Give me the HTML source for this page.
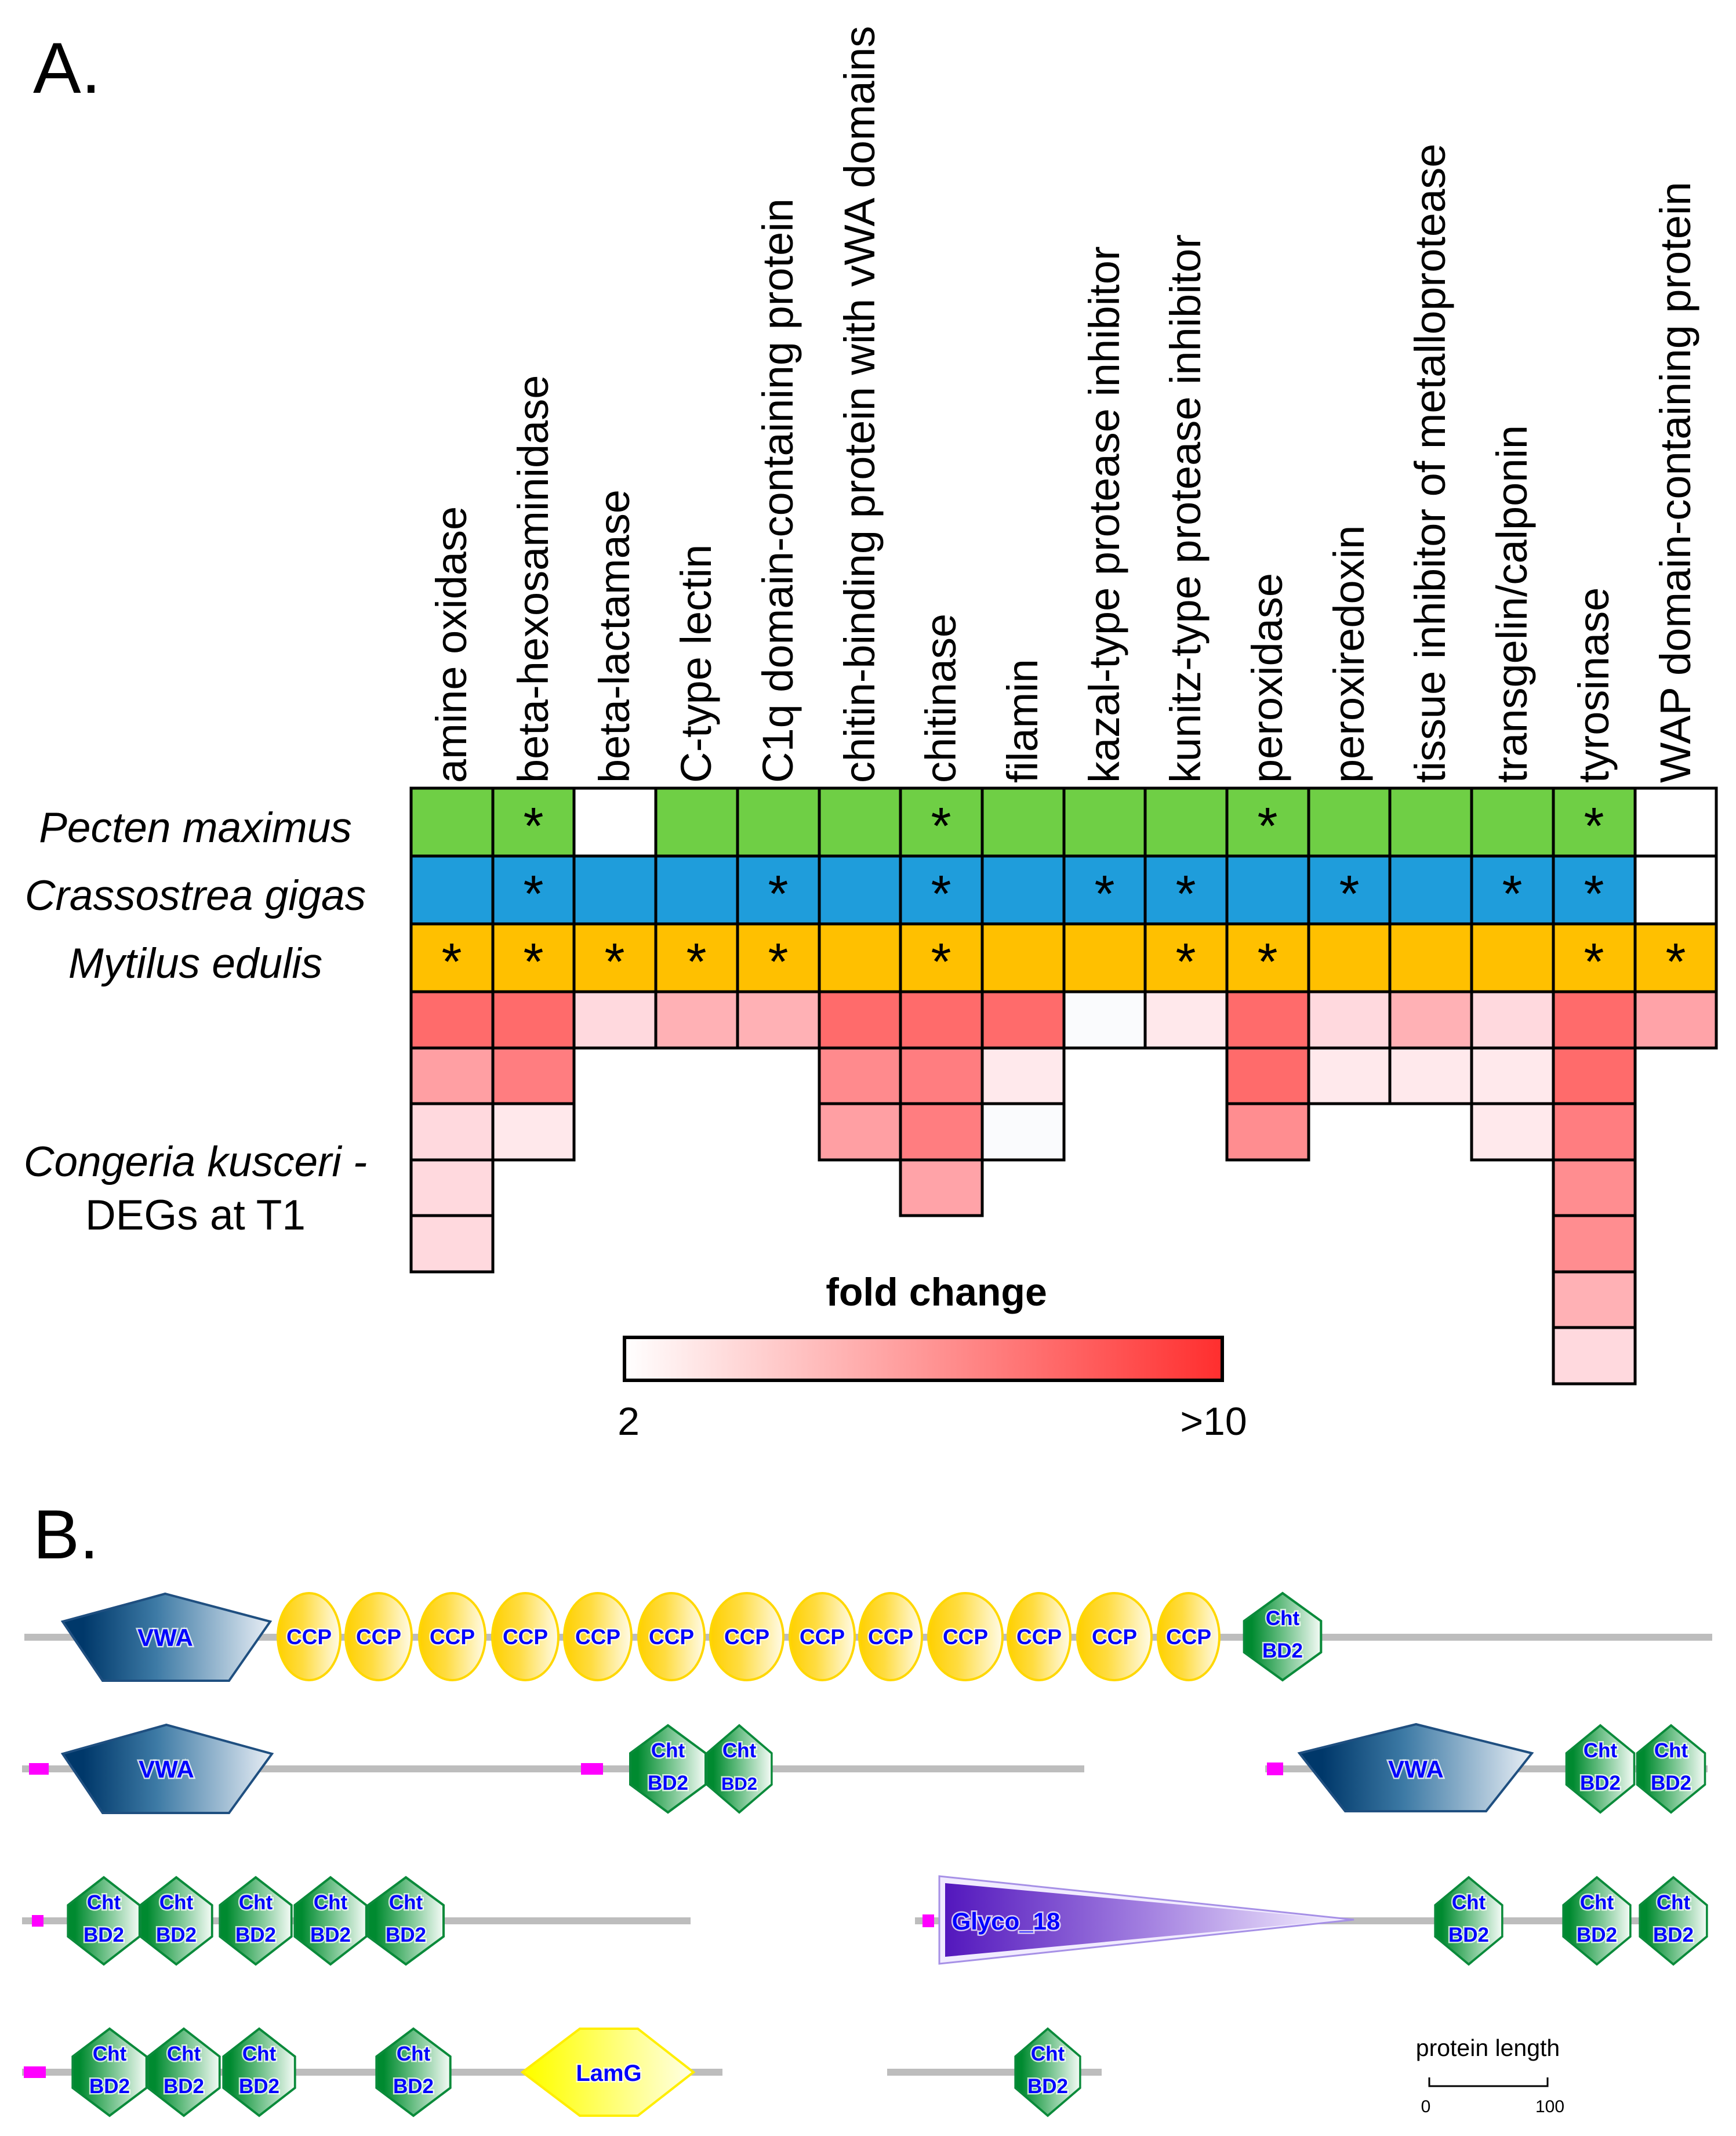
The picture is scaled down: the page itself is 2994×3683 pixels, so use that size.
<!DOCTYPE html>
<html><head><meta charset="utf-8"><style>
html,body{margin:0;padding:0;background:#fff;}
svg{display:block;}
.lab{font-family:"Liberation Sans",Arial,sans-serif;font-size:74px;fill:#000;}
.sp{font-family:"Liberation Sans",Arial,sans-serif;font-size:73px;font-style:italic;fill:#000;}
.st{font-family:"Liberation Sans",Arial,sans-serif;font-size:90px;fill:#000;text-anchor:middle;}
.d{font-family:"Liberation Sans",Arial,sans-serif;font-weight:bold;fill:#0000ff;text-anchor:middle;stroke:#fff;stroke-width:5;stroke-opacity:0.75;paint-order:stroke;}
</style></head><body>
<svg width="2994" height="3683" viewBox="0 0 2994 3683" xmlns="http://www.w3.org/2000/svg">
<defs>
<linearGradient id="vwa" x1="0" y1="0" x2="1" y2="0"><stop offset="0.1" stop-color="#00386a"/><stop offset="0.45" stop-color="#3d7aa5"/><stop offset="1" stop-color="#e8eef5"/></linearGradient>
<linearGradient id="ccp" x1="0" y1="0" x2="1" y2="0"><stop offset="0" stop-color="#ffd000"/><stop offset="0.4" stop-color="#ffdc40"/><stop offset="1" stop-color="#fffbe8"/></linearGradient>
<linearGradient id="cht" x1="0" y1="0" x2="1" y2="0"><stop offset="0.1" stop-color="#008a30"/><stop offset="0.45" stop-color="#5cb879"/><stop offset="1" stop-color="#f4fbf6"/></linearGradient>
<linearGradient id="gly" x1="0" y1="0" x2="1" y2="0"><stop offset="0" stop-color="#5317bd"/><stop offset="0.5" stop-color="#a27fe0"/><stop offset="1" stop-color="#f6f1ff"/></linearGradient>
<linearGradient id="lam" x1="0" y1="0" x2="1" y2="0"><stop offset="0.05" stop-color="#ffff00"/><stop offset="1" stop-color="#ffffe6"/></linearGradient>
<linearGradient id="fold" x1="0" y1="0" x2="1" y2="0"><stop offset="0" stop-color="#ffffff"/><stop offset="1" stop-color="#ff2e2e"/></linearGradient>
<polygon id="chtp" points="0,-75 65,-27 65,27 0,75 -65,27 -65,-27" fill="url(#cht)" stroke="#0a8a3a" stroke-width="4"/>
</defs>

<text x="57" y="160" font-family="Liberation Sans,Arial,sans-serif" font-size="124">A.</text>

<g class="lab">
<text transform="translate(779,1350) rotate(-90)" y="25">amine oxidase</text>
<text transform="translate(920,1350) rotate(-90)" y="25">beta-hexosaminidase</text>
<text transform="translate(1060,1350) rotate(-90)" y="25">beta-lactamase</text>
<text transform="translate(1201,1350) rotate(-90)" y="25">C-type lectin</text>
<text transform="translate(1342,1350) rotate(-90)" y="25">C1q domain-containing protein</text>
<text transform="translate(1483,1350) rotate(-90)" y="25">chitin-binding protein with vWA domains</text>
<text transform="translate(1623,1350) rotate(-90)" y="25">chitinase</text>
<text transform="translate(1764,1350) rotate(-90)" y="25">filamin</text>
<text transform="translate(1905,1350) rotate(-90)" y="25">kazal-type protease inhibitor</text>
<text transform="translate(2045,1350) rotate(-90)" y="25">kunitz-type protease inhibitor</text>
<text transform="translate(2186,1350) rotate(-90)" y="25">peroxidase</text>
<text transform="translate(2327,1350) rotate(-90)" y="25">peroxiredoxin</text>
<text transform="translate(2467,1350) rotate(-90)" y="25">tissue inhibitor of metalloprotease</text>
<text transform="translate(2608,1350) rotate(-90)" y="25">transgelin/calponin</text>
<text transform="translate(2749,1350) rotate(-90)" y="25">tyrosinase</text>
<text transform="translate(2890,1350) rotate(-90)" y="25">WAP domain-containing protein</text>
</g>

<g class="sp" text-anchor="middle">
<text x="337" y="1452">Pecten maximus</text>
<text x="337" y="1569">Crassostrea gigas</text>
<text x="337" y="1686">Mytilus edulis</text>
<text x="337" y="2028">Congeria kusceri -</text>
<text x="337" y="2120" font-style="normal">DEGs at T1</text>
</g>

<g stroke="#000" stroke-width="5">
<rect x="709" y="1359" width="141" height="117" fill="#6fcf45"/>
<rect x="850" y="1359" width="140" height="117" fill="#6fcf45"/>
<rect x="990" y="1359" width="141" height="117" fill="#ffffff"/>
<rect x="1131" y="1359" width="141" height="117" fill="#6fcf45"/>
<rect x="1272" y="1359" width="141" height="117" fill="#6fcf45"/>
<rect x="1413" y="1359" width="140" height="117" fill="#6fcf45"/>
<rect x="1553" y="1359" width="141" height="117" fill="#6fcf45"/>
<rect x="1694" y="1359" width="141" height="117" fill="#6fcf45"/>
<rect x="1835" y="1359" width="140" height="117" fill="#6fcf45"/>
<rect x="1975" y="1359" width="141" height="117" fill="#6fcf45"/>
<rect x="2116" y="1359" width="141" height="117" fill="#6fcf45"/>
<rect x="2257" y="1359" width="140" height="117" fill="#6fcf45"/>
<rect x="2397" y="1359" width="141" height="117" fill="#6fcf45"/>
<rect x="2538" y="1359" width="141" height="117" fill="#6fcf45"/>
<rect x="2679" y="1359" width="141" height="117" fill="#6fcf45"/>
<rect x="2820" y="1359" width="140" height="117" fill="#ffffff"/>
<rect x="709" y="1476" width="141" height="117" fill="#1f9ddb"/>
<rect x="850" y="1476" width="140" height="117" fill="#1f9ddb"/>
<rect x="990" y="1476" width="141" height="117" fill="#1f9ddb"/>
<rect x="1131" y="1476" width="141" height="117" fill="#1f9ddb"/>
<rect x="1272" y="1476" width="141" height="117" fill="#1f9ddb"/>
<rect x="1413" y="1476" width="140" height="117" fill="#1f9ddb"/>
<rect x="1553" y="1476" width="141" height="117" fill="#1f9ddb"/>
<rect x="1694" y="1476" width="141" height="117" fill="#1f9ddb"/>
<rect x="1835" y="1476" width="140" height="117" fill="#1f9ddb"/>
<rect x="1975" y="1476" width="141" height="117" fill="#1f9ddb"/>
<rect x="2116" y="1476" width="141" height="117" fill="#1f9ddb"/>
<rect x="2257" y="1476" width="140" height="117" fill="#1f9ddb"/>
<rect x="2397" y="1476" width="141" height="117" fill="#1f9ddb"/>
<rect x="2538" y="1476" width="141" height="117" fill="#1f9ddb"/>
<rect x="2679" y="1476" width="141" height="117" fill="#1f9ddb"/>
<rect x="2820" y="1476" width="140" height="117" fill="#ffffff"/>
<rect x="709" y="1593" width="141" height="117" fill="#ffc000"/>
<rect x="850" y="1593" width="140" height="117" fill="#ffc000"/>
<rect x="990" y="1593" width="141" height="117" fill="#ffc000"/>
<rect x="1131" y="1593" width="141" height="117" fill="#ffc000"/>
<rect x="1272" y="1593" width="141" height="117" fill="#ffc000"/>
<rect x="1413" y="1593" width="140" height="117" fill="#ffc000"/>
<rect x="1553" y="1593" width="141" height="117" fill="#ffc000"/>
<rect x="1694" y="1593" width="141" height="117" fill="#ffc000"/>
<rect x="1835" y="1593" width="140" height="117" fill="#ffc000"/>
<rect x="1975" y="1593" width="141" height="117" fill="#ffc000"/>
<rect x="2116" y="1593" width="141" height="117" fill="#ffc000"/>
<rect x="2257" y="1593" width="140" height="117" fill="#ffc000"/>
<rect x="2397" y="1593" width="141" height="117" fill="#ffc000"/>
<rect x="2538" y="1593" width="141" height="117" fill="#ffc000"/>
<rect x="2679" y="1593" width="141" height="117" fill="#ffc000"/>
<rect x="2820" y="1593" width="140" height="117" fill="#ffc000"/>
<!-- fold rows: 1710,1807,1903,2000,2096,2193,2289,2386 -->
<rect x="709" y="1710" width="141" height="97" fill="#ff6b6b"/>
<rect x="709" y="1807" width="141" height="96" fill="#ff9fa3"/>
<rect x="709" y="1903" width="141" height="97" fill="#ffd9de"/>
<rect x="709" y="2000" width="141" height="96" fill="#ffd9de"/>
<rect x="709" y="2096" width="141" height="97" fill="#ffd9de"/>
<rect x="850" y="1710" width="140" height="97" fill="#ff6b6b"/>
<rect x="850" y="1807" width="140" height="96" fill="#ff7d80"/>
<rect x="850" y="1903" width="140" height="97" fill="#ffe8eb"/>
<rect x="990" y="1710" width="141" height="97" fill="#ffd9de"/>
<rect x="1131" y="1710" width="141" height="97" fill="#ffb1b5"/>
<rect x="1272" y="1710" width="141" height="97" fill="#ffb1b5"/>
<rect x="1413" y="1710" width="140" height="97" fill="#ff6b6b"/>
<rect x="1413" y="1807" width="140" height="96" fill="#ff8a8d"/>
<rect x="1413" y="1903" width="140" height="97" fill="#ff9fa3"/>
<rect x="1553" y="1710" width="141" height="97" fill="#ff6b6b"/>
<rect x="1553" y="1807" width="141" height="96" fill="#ff7d80"/>
<rect x="1553" y="1903" width="141" height="97" fill="#ff7d80"/>
<rect x="1553" y="2000" width="141" height="96" fill="#ffa3a8"/>
<rect x="1694" y="1710" width="141" height="97" fill="#ff6b6b"/>
<rect x="1694" y="1807" width="141" height="96" fill="#ffe9ec"/>
<rect x="1694" y="1903" width="141" height="97" fill="#fafbfd"/>
<rect x="1835" y="1710" width="140" height="97" fill="#fafbfd"/>
<rect x="1975" y="1710" width="141" height="97" fill="#ffe8eb"/>
<rect x="2116" y="1710" width="141" height="97" fill="#ff6b6b"/>
<rect x="2116" y="1807" width="141" height="96" fill="#ff6b6b"/>
<rect x="2116" y="1903" width="141" height="97" fill="#ff8d90"/>
<rect x="2257" y="1710" width="140" height="97" fill="#ffd9de"/>
<rect x="2257" y="1807" width="140" height="96" fill="#ffe9ec"/>
<rect x="2397" y="1710" width="141" height="97" fill="#ffb1b5"/>
<rect x="2397" y="1807" width="141" height="96" fill="#ffe9ec"/>
<rect x="2538" y="1710" width="141" height="97" fill="#ffd9de"/>
<rect x="2538" y="1807" width="141" height="96" fill="#ffe9ec"/>
<rect x="2538" y="1903" width="141" height="97" fill="#ffe9ec"/>
<rect x="2679" y="1710" width="141" height="97" fill="#ff6b6b"/>
<rect x="2679" y="1807" width="141" height="96" fill="#ff6b6b"/>
<rect x="2679" y="1903" width="141" height="97" fill="#ff7d80"/>
<rect x="2679" y="2000" width="141" height="96" fill="#ff8d90"/>
<rect x="2679" y="2096" width="141" height="97" fill="#ff8d90"/>
<rect x="2679" y="2193" width="141" height="96" fill="#ffb1b5"/>
<rect x="2679" y="2289" width="141" height="97" fill="#ffd9de"/>
<rect x="2820" y="1710" width="140" height="97" fill="#ffa3a8"/>
</g>

<g class="st">
<text x="920" y="1455">*</text><text x="1623" y="1455">*</text><text x="2186" y="1455">*</text><text x="2749" y="1455">*</text>
<text x="920" y="1572">*</text><text x="1342" y="1572">*</text><text x="1623" y="1572">*</text><text x="1905" y="1572">*</text><text x="2045" y="1572">*</text><text x="2327" y="1572">*</text><text x="2608" y="1572">*</text><text x="2749" y="1572">*</text>
<text x="779" y="1689">*</text><text x="920" y="1689">*</text><text x="1060" y="1689">*</text><text x="1201" y="1689">*</text><text x="1342" y="1689">*</text><text x="1623" y="1689">*</text><text x="2045" y="1689">*</text><text x="2186" y="1689">*</text><text x="2749" y="1689">*</text><text x="2890" y="1689">*</text>
</g>

<text x="1615" y="2251" font-family="Liberation Sans,Arial,sans-serif" font-size="68" font-weight="bold" text-anchor="middle">fold change</text>
<rect x="1077" y="2306" width="1031" height="74" fill="url(#fold)" stroke="#000" stroke-width="6"/>
<text x="1084" y="2474" font-family="Liberation Sans,Arial,sans-serif" font-size="68" text-anchor="middle">2</text>
<text x="2093" y="2474" font-family="Liberation Sans,Arial,sans-serif" font-size="68" text-anchor="middle">&gt;10</text>

<text x="57" y="2687" font-family="Liberation Sans,Arial,sans-serif" font-size="120">B.</text>

<g stroke="#bdbdbd" stroke-width="12">
<line x1="42" y1="2823" x2="2953" y2="2823"/>
<line x1="38" y1="3050" x2="1870" y2="3050"/>
<line x1="2182" y1="3050" x2="2945" y2="3050"/>
<line x1="38" y1="3312" x2="1191" y2="3312"/>
<line x1="1578" y1="3312" x2="2945" y2="3312"/>
<line x1="38" y1="3573" x2="1246" y2="3573"/>
<line x1="1530" y1="3573" x2="1900" y2="3573"/>
</g>

<g fill="#ff00ff">
<rect x="50" y="3040" width="34" height="20"/>
<rect x="1002" y="3040" width="38" height="20"/>
<rect x="2185" y="3039" width="28" height="22"/>
<rect x="55" y="3302" width="20" height="20"/>
<rect x="1591" y="3301" width="20" height="22"/>
<rect x="41" y="3563" width="38" height="20"/>
</g>

<g stroke="#1f4f80" stroke-width="4">
<polygon points="285,2748 466,2796 395,2898 177,2898 108,2796" fill="url(#vwa)"/>
<polygon points="287,2974 469,3024 395,3126 177,3126 108,3024" fill="url(#vwa)"/>
<polygon points="2442,2973 2642,3023 2563,3123 2320,3123 2241,3023" fill="url(#vwa)"/>
</g>
<text class="d" x="285" y="2838" font-size="42">VWA</text>
<text class="d" x="287" y="3065" font-size="42">VWA</text>
<text class="d" x="2442" y="3065" font-size="42">VWA</text>

<g fill="url(#ccp)" stroke="#ffd700" stroke-width="4">
<ellipse cx="533" cy="2822" rx="54" ry="75"/>
<ellipse cx="653" cy="2822" rx="57" ry="75"/>
<ellipse cx="780" cy="2822" rx="57" ry="75"/>
<ellipse cx="906" cy="2822" rx="57" ry="75"/>
<ellipse cx="1031" cy="2822" rx="58" ry="75"/>
<ellipse cx="1158" cy="2822" rx="57" ry="75"/>
<ellipse cx="1288" cy="2822" rx="63" ry="75"/>
<ellipse cx="1418" cy="2822" rx="56" ry="75"/>
<ellipse cx="1536" cy="2822" rx="54" ry="75"/>
<ellipse cx="1665" cy="2822" rx="64" ry="75"/>
<ellipse cx="1792" cy="2822" rx="54" ry="75"/>
<ellipse cx="1922" cy="2822" rx="64" ry="75"/>
<ellipse cx="2050" cy="2822" rx="53" ry="75"/>
</g>
<g class="d" font-size="37">
<text x="533" y="2835">CCP</text><text x="653" y="2835">CCP</text><text x="780" y="2835">CCP</text><text x="906" y="2835">CCP</text><text x="1031" y="2835">CCP</text><text x="1158" y="2835">CCP</text><text x="1288" y="2835">CCP</text><text x="1418" y="2835">CCP</text><text x="1536" y="2835">CCP</text><text x="1665" y="2835">CCP</text><text x="1792" y="2835">CCP</text><text x="1922" y="2835">CCP</text><text x="2050" y="2835">CCP</text>
</g>

<polygon points="1620,3235 1620,3386 2335,3310" fill="#f1ebff" stroke="#a690e6" stroke-width="3"/>
<polygon points="1630,3247 1630,3374 2318,3310" fill="url(#gly)"/>
<text class="d" x="1735" y="3327" font-size="42">Glyco_18</text>

<polygon points="901,3573 1000,3498 1100,3498 1196,3573 1100,3648 1000,3648" fill="url(#lam)" stroke="#ffee00" stroke-width="4"/>
<text class="d" x="1050" y="3588" font-size="40">LamG</text>

<use href="#chtp" transform="translate(2212,2822) scale(1.02,1)"/>
<use href="#chtp" transform="translate(1152,3050) scale(1.0,1)"/>
<use href="#chtp" transform="translate(1275,3050) scale(0.86,1)"/>
<use href="#chtp" transform="translate(2760,3050) scale(0.9,1)"/>
<use href="#chtp" transform="translate(2882,3050) scale(0.9,1)"/>
<use href="#chtp" transform="translate(179,3312) scale(0.95,1)"/>
<use href="#chtp" transform="translate(304,3312) scale(0.95,1)"/>
<use href="#chtp" transform="translate(441,3312) scale(0.95,1)"/>
<use href="#chtp" transform="translate(570,3312) scale(0.95,1)"/>
<use href="#chtp" transform="translate(700,3312) scale(1.0,1)"/>
<use href="#chtp" transform="translate(2533,3312) scale(0.89,1)"/>
<use href="#chtp" transform="translate(2754,3312) scale(0.89,1)"/>
<use href="#chtp" transform="translate(2886,3312) scale(0.89,1)"/>
<use href="#chtp" transform="translate(189,3573) scale(0.98,1)"/>
<use href="#chtp" transform="translate(317,3573) scale(0.95,1)"/>
<use href="#chtp" transform="translate(447,3573) scale(0.95,1)"/>
<use href="#chtp" transform="translate(713,3573) scale(0.98,1)"/>
<use href="#chtp" transform="translate(1807,3573) scale(0.86,1)"/>

<g class="d" font-size="35">
<text x="2212" y="2802">Cht</text><text x="2212" y="2858">BD2</text>
<text x="1152" y="3030">Cht</text><text x="1152" y="3086">BD2</text>
<text x="1275" y="3030">Cht</text><text x="1275" y="3086" font-size="31">BD2</text>
<text x="2760" y="3030">Cht</text><text x="2760" y="3086">BD2</text>
<text x="2882" y="3030">Cht</text><text x="2882" y="3086">BD2</text>
<text x="179" y="3292">Cht</text><text x="179" y="3348">BD2</text>
<text x="304" y="3292">Cht</text><text x="304" y="3348">BD2</text>
<text x="441" y="3292">Cht</text><text x="441" y="3348">BD2</text>
<text x="570" y="3292">Cht</text><text x="570" y="3348">BD2</text>
<text x="700" y="3292">Cht</text><text x="700" y="3348">BD2</text>
<text x="2533" y="3292">Cht</text><text x="2533" y="3348">BD2</text>
<text x="2754" y="3292">Cht</text><text x="2754" y="3348">BD2</text>
<text x="2886" y="3292">Cht</text><text x="2886" y="3348">BD2</text>
<text x="189" y="3553">Cht</text><text x="189" y="3609">BD2</text>
<text x="317" y="3553">Cht</text><text x="317" y="3609">BD2</text>
<text x="447" y="3553">Cht</text><text x="447" y="3609">BD2</text>
<text x="713" y="3553">Cht</text><text x="713" y="3609">BD2</text>
<text x="1807" y="3553">Cht</text><text x="1807" y="3609">BD2</text>
</g>

<text x="2566" y="3545" font-family="Liberation Sans,Arial,sans-serif" font-size="41" text-anchor="middle">protein length</text>
<path d="M2465,3582 V3597 H2669 V3582" fill="none" stroke="#000" stroke-width="3"/>
<text x="2459" y="3642" font-family="Liberation Sans,Arial,sans-serif" font-size="30" text-anchor="middle">0</text>
<text x="2673" y="3642" font-family="Liberation Sans,Arial,sans-serif" font-size="30" text-anchor="middle">100</text>
</svg>
</body></html>
